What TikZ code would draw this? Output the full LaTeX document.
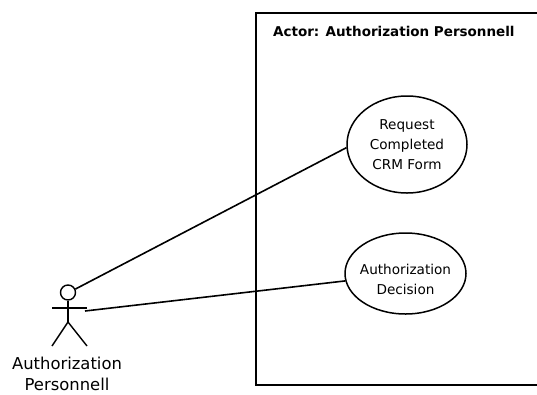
\documentclass[tikz,border=0pt]{standalone}
\usepackage{fontspec}
\setmainfont{DejaVu Sans}
\usetikzlibrary{shapes.geometric}
\tikzset{
  usecase/.style={draw,ellipse,line width=1.5pt,inner sep=0pt,align=center,font=\fontsize{13.6}{19.7}\selectfont},
  stick/.style={line width=1.4pt},
}
\begin{document}
\begin{tikzpicture}[x=1pt,y=-1pt,line width=1.6pt]
\useasboundingbox (0,0) rectangle (537,394);
\coordinate(TOPR) at (537,13);
\coordinate(TOPL) at (256,13);
\coordinate(BOTL) at (256,385);
\coordinate(BOTR) at (537,385);
\draw(TOPR)--(TOPL)--(BOTL)--(BOTR);
\node[anchor=west,font=\bfseries\fontsize{13.5}{15}\selectfont](TITLE) at (269,31.5){Actor: Authorization Personnell};
\node[usecase,minimum width=120pt,minimum height=97pt](REQUEST) at (407,144.5){Request\\Completed\\CRM Form};
\node[usecase,minimum width=121pt,minimum height=81pt,
  label={[name=DECISIONTEXT,yshift=-6pt,align=center,font=\fontsize{13.6}{19.7}\selectfont]center:Authorization\\Decision}](DECISION) at (405.5,273.5){};
\node[draw,circle,stick,minimum size=15pt,inner sep=0pt](HEAD) at (68,292.5){};
\coordinate(NECK) at (68,322);
\coordinate(ARML) at (52,308);
\coordinate(ARMR) at (87,308);
\coordinate(FOOTL) at (52,346);
\coordinate(FOOTR) at (87,346);
\coordinate(HAND) at (85,311);
\draw[stick](HEAD.south)--(NECK);
\draw[stick](ARML)--(ARMR);
\draw[stick](FOOTL)--(NECK)--(FOOTR);
\node[align=center,inner sep=0pt,font=\fontsize{16.4}{21}\selectfont](ACTOR) at (67,374){Authorization\\Personnell};
\draw(HEAD.25)--(REQUEST.183);
\draw(HAND)--(DECISION.187);
\end{tikzpicture}
\end{document}
